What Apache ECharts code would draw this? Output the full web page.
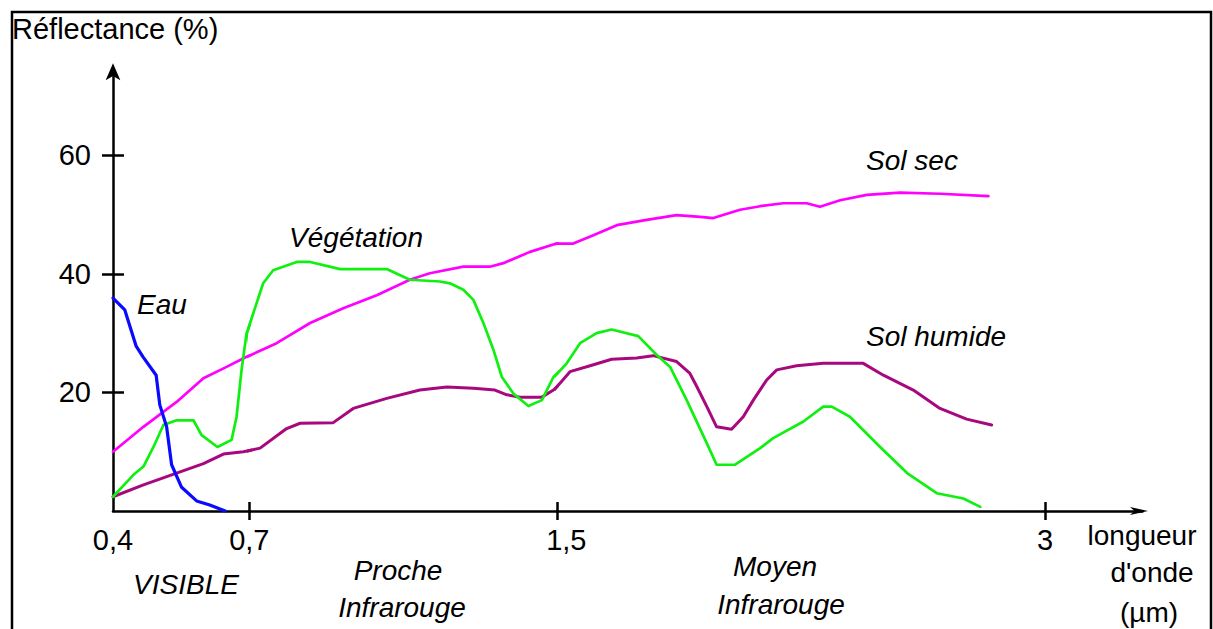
<!DOCTYPE html>
<html>
<head>
<meta charset="utf-8">
<script src="https://cdn.jsdelivr.net/npm/echarts@6/dist/echarts.min.js"></script>
<style>
html,body{margin:0;padding:0;background:#fff;}
#c{width:1213px;height:629px;}
</style>
</head>
<body>
<div id="c"></div>
<script>
// ---- data (wavelength in µm, reflectance in %) ----
const xTicks = [0.4, 0.7, 1.5, 3];
const xTickLabels = ['0,4', '0,7', '1,5', '3'];
const yTicks = [20, 40, 60];

const eau = [[0.400,35.9],[0.426,33.9],[0.451,27.8],[0.466,26.0],[0.495,22.9],[0.503,17.9],[0.518,14.2],[0.529,7.8],[0.551,4.0],[0.584,1.7],[0.613,1.0],[0.647,0]];

const vegetation = [[0.400,2.4],[0.445,6.1],[0.467,7.5],[0.489,10.8],[0.511,14.5],[0.540,15.3],[0.577,15.3],[0.595,12.8],[0.630,10.8],[0.661,12.0],[0.672,15.9],[0.683,23.8],[0.694,30.0],[0.710,33.3],[0.736,38.4],[0.762,40.6],[0.823,42.0],[0.858,42.0],[0.936,40.8],[1.057,40.8],[1.117,39.0],[1.195,38.7],[1.221,38.4],[1.256,37.3],[1.282,35.6],[1.308,31.7],[1.334,27.2],[1.356,22.6],[1.386,19.8],[1.425,17.7],[1.460,18.7],[1.490,22.6],[1.529,24.9],[1.570,28.3],[1.621,30.0],[1.667,30.6],[1.749,29.5],[1.806,26.3],[1.847,24.3],[1.898,18.7],[1.960,11.4],[1.990,7.8],[2.047,7.8],[2.124,10.6],[2.164,12.3],[2.257,15.1],[2.318,17.6],[2.344,17.6],[2.400,15.9],[2.493,10.8],[2.576,6.4],[2.667,3.0],[2.749,2.1],[2.801,0.7]];

const solSec = [[0.400,10.0],[0.467,14.2],[0.540,18.4],[0.599,22.4],[0.650,24.3],[0.694,26.0],[0.771,28.3],[0.858,31.7],[0.944,34.2],[1.031,36.4],[1.117,39.0],[1.169,40.1],[1.256,41.2],[1.325,41.2],[1.360,41.8],[1.429,43.7],[1.498,45.1],[1.549,45.1],[1.611,46.5],[1.683,48.2],[1.775,49.1],[1.867,49.9],[1.939,49.6],[1.980,49.4],[2.062,50.8],[2.124,51.4],[2.195,51.9],[2.267,51.9],[2.308,51.3],[2.370,52.4],[2.452,53.3],[2.554,53.7],[2.677,53.5],[2.826,53.1]];

const solHumide = [[0.400,2.4],[0.467,4.4],[0.540,6.4],[0.599,8.0],[0.643,9.6],[0.687,10.0],[0.728,10.6],[0.797,13.9],[0.832,14.8],[0.918,14.9],[0.970,17.3],[1.057,19.0],[1.143,20.4],[1.213,20.9],[1.282,20.7],[1.338,20.4],[1.369,19.6],[1.403,19.2],[1.460,19.2],[1.490,20.4],[1.539,23.5],[1.601,24.5],[1.667,25.6],[1.744,25.8],[1.795,26.2],[1.867,25.2],[1.908,23.2],[1.929,21.0],[1.960,17.6],[1.990,14.2],[2.036,13.8],[2.072,15.9],[2.103,18.7],[2.144,22.1],[2.175,23.8],[2.236,24.5],[2.318,24.9],[2.441,24.9],[2.503,22.9],[2.595,20.4],[2.677,17.3],[2.759,15.5],[2.836,14.5]];

// ---- styling / layout ----
const FONT = "'Liberation Sans', Arial, Helvetica, sans-serif";
const curves = [
  {name: 'Sol humide', data: solHumide, color: '#a8087e', width: 3},
  {name: 'Sol sec', data: solSec, color: '#ff00ff', width: 2.7},
  {name: 'Végétation', data: vegetation, color: '#10f010', width: 2.7},
  {name: 'Eau', data: eau, color: '#0a0aff', width: 3.2}
];
// the wavelength axis of the original is drawn in three linear pieces
const segments = [
  {min: 0.4, max: 0.7, left: 113, width: 136.3},
  {min: 0.7, max: 1.5, left: 249.3, width: 308},
  {min: 1.5, max: 3.3, left: 557.3, width: 585.2}
];
const GRID_TOP = 72.2, GRID_H = 438.8, Y_MAX = 74;
const AX = {color: '#000', width: 2.5};
const labelOf = v => xTickLabels[xTicks.indexOf(v)];

const grid = [], xAxis = [], yAxis = [], series = [];
segments.forEach((s, i) => {
  grid.push({left: s.left, top: GRID_TOP, width: s.width, height: GRID_H});
  const labelVals = i === 0 ? [0.4, 0.7] : (i === 2 ? [1.5, 3] : null);
  xAxis.push({
    gridIndex: i, type: 'value', min: s.min, max: s.max,
    axisLine: {show: true, onZero: false, lineStyle: AX,
      symbol: i === 2 ? ['none', 'arrow'] : 'none', symbolSize: [6, 18], symbolOffset: [0, 5.5]},
    axisTick: {show: false}, splitLine: {show: false},
    axisLabel: labelVals ? {
      show: true, customValues: labelVals, margin: 14, showMinLabel: true, showMaxLabel: true,
      hideOverlap: false,
      color: '#000', fontSize: 29, fontFamily: FONT,
      formatter: v => (v === 1.5 ? '{s|' + labelOf(v) + '}' : labelOf(v)),
      rich: {s: {fontSize: 29, fontFamily: FONT, color: '#000', padding: [0, 0, 0, 18]}}
    } : {show: false}
  });
  xAxis.push({
    gridIndex: i, type: 'value', min: s.min, max: s.max, position: 'bottom', offset: -9,
    axisLine: {show: false, onZero: false},
    axisTick: {show: true, length: 18, lineStyle: AX,
      customValues: xTicks.filter(t => t > s.min && t <= s.max)},
    axisLabel: {show: false}, splitLine: {show: false}
  });
});
// y axes
yAxis.push({
  gridIndex: 0, type: 'value', min: 0, max: Y_MAX,
  axisLine: {show: true, onZero: false, lineStyle: AX, symbol: ['none', 'arrow'],
    symbolSize: [11, 17], symbolOffset: [0, 9]},
  axisTick: {show: false}, splitLine: {show: false},
  axisLabel: {show: true, customValues: yTicks, margin: 22, color: '#000', fontSize: 29, fontFamily: FONT}
});
yAxis.push({
  gridIndex: 0, type: 'value', min: 0, max: Y_MAX, position: 'left', offset: -11,
  axisLine: {show: false, onZero: false},
  axisTick: {show: true, length: 22, lineStyle: AX, customValues: yTicks},
  axisLabel: {show: false}, splitLine: {show: false}
});
yAxis.push({gridIndex: 1, type: 'value', min: 0, max: Y_MAX, show: false});
yAxis.push({gridIndex: 2, type: 'value', min: 0, max: Y_MAX, show: false});
const yIdx = [0, 2, 3];

segments.forEach((s, i) => {
  curves.forEach(c => {
    series.push({
      type: 'line', name: c.name, data: c.data,
      xAxisIndex: 2 * i, yAxisIndex: yIdx[i],
      symbol: 'none', clip: true, smooth: false,
      lineStyle: {color: c.color, width: c.width, join: 'round', cap: 'round'},
      itemStyle: {color: c.color},
      emphasis: {disabled: true}
    });
  });
});

const txt = (text, x, y, opt) => Object.assign({
  type: 'text', x: x, y: y, silent: true,
  style: Object.assign({text: text, fill: '#000', fontSize: 28, fontFamily: FONT,
    align: 'center', verticalAlign: 'middle'}, opt || {})
});
const it = {fontStyle: 'italic'};

const graphic = [
  {type: 'rect', silent: true, z: -10, shape: {x: 12, y: 12, width: 1199, height: 700},
   style: {fill: 'none', stroke: '#000', lineWidth: 2.5}},
  txt('Réflectance (%)', 12, 29, {align: 'left', fontSize: 29}),
  txt('Eau', 162, 304, it),
  txt('Végétation', 356, 237, it),
  txt('Sol sec', 912, 160, it),
  txt('Sol humide', 936, 336, it),
  txt('VISIBLE', 186, 584, it),
  txt('Proche', 398, 570, it),
  txt('Infrarouge', 402, 607, it),
  txt('Moyen', 775, 566, it),
  txt('Infrarouge', 781, 604, it),
  txt('longueur', 1142, 535),
  txt("d'onde", 1152, 572),
  txt('(µm)', 1149, 612)
];

const chart = echarts.init(document.getElementById('c'), null, {renderer: 'svg'});
chart.setOption({
  animation: false,
  backgroundColor: '#fff',
  grid: grid, xAxis: xAxis, yAxis: yAxis, series: series,
  graphic: graphic,
  tooltip: {show: false}
});
</script>
</body>
</html>
